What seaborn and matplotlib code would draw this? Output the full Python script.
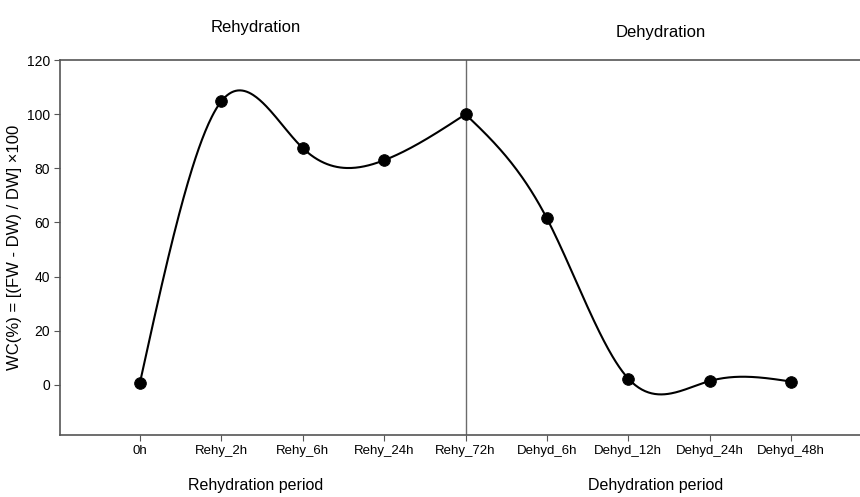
import numpy as np
import pandas as pd
import seaborn as sns
import matplotlib
matplotlib.use("Agg")
import matplotlib.pyplot as plt

# data
stages = ["0h", "Rehy_2h", "Rehy_6h", "Rehy_24h", "Rehy_72h",
          "Dehyd_6h", "Dehyd_12h", "Dehyd_24h", "Dehyd_48h"]
wc = [0.8, 104.8, 87.5, 83.0, 100.0, 61.5, 2.3, 1.4, 1.2]
split_at = 4  # Rehy_72h: end of rehydration, start of dehydration

sns.set_style("white")
plt.rcParams["font.family"] = ["Liberation Sans", "DejaVu Sans"]
plt.rcParams["text.color"] = "black"
plt.rcParams["xtick.color"] = "black"
plt.rcParams["ytick.color"] = "black"
plt.rcParams["axes.labelcolor"] = "black"

df = pd.DataFrame({"stage": stages, "wc": wc})
df["pos"] = np.arange(len(stages))


def natural_spline(x, y, n=300):
    # natural cubic spline through the points (smooth connecting line)
    x = np.asarray(x, float)
    y = np.asarray(y, float)
    k = len(x)
    h = np.diff(x)
    A = np.zeros((k, k))
    b = np.zeros(k)
    A[0, 0] = A[-1, -1] = 1
    for i in range(1, k - 1):
        A[i, i - 1] = h[i - 1]
        A[i, i] = 2 * (h[i - 1] + h[i])
        A[i, i + 1] = h[i]
        b[i] = 6 * ((y[i + 1] - y[i]) / h[i] - (y[i] - y[i - 1]) / h[i - 1])
    M = np.linalg.solve(A, b)
    xs = np.linspace(x[0], x[-1], n)
    idx = np.clip(np.searchsorted(x, xs) - 1, 0, k - 2)
    x0, x1 = x[idx], x[idx + 1]
    hh = x1 - x0
    ys = (M[idx] * (x1 - xs) ** 3 / (6 * hh) + M[idx + 1] * (xs - x0) ** 3 / (6 * hh)
          + (y[idx] / hh - M[idx] * hh / 6) * (x1 - xs)
          + (y[idx + 1] / hh - M[idx + 1] * hh / 6) * (xs - x0))
    return pd.DataFrame({"pos": xs, "wc": ys})


rehy = df[df["pos"] <= split_at]
dehy = df[df["pos"] >= split_at]
curve_r = natural_spline(rehy["pos"], rehy["wc"])
curve_r["phase"] = "Rehydration"
curve_d = natural_spline(dehy["pos"], dehy["wc"])
curve_d["phase"] = "Dehydration"
curve = pd.concat([curve_r, curve_d], ignore_index=True)

fig = plt.figure(figsize=(8.6, 4.97), dpi=100)
ax = fig.add_axes([0.07, 0.125, 0.935, 0.754])

sns.lineplot(data=curve, x="pos", y="wc", units="phase", estimator=None,
             color="black", linewidth=1.5, sort=False, ax=ax)
sns.scatterplot(data=df, x="pos", y="wc", color="black", s=70, edgecolor="black",
                zorder=3, ax=ax)

ax.axvline(split_at, color="#6b6b6b", linewidth=1.0, zorder=1)

ax.set_xlim(-0.98, 8.9)
ax.set_ylim(-18.5, 120)
ax.set_xticks(df["pos"])
ax.set_xticklabels(stages, fontsize=9.5)
ax.set_yticks(range(0, 121, 20))
ax.tick_params(axis="y", labelsize=10)
ax.tick_params(direction="out", length=4, width=0.8, color="#555555", bottom=True, left=True)
ax.set_xlabel("")
ax.set_ylabel("WC(%) = [(FW - DW) / DW] ×100", fontsize=12, labelpad=3)

for side in ["top", "left", "bottom"]:
    ax.spines[side].set_color("#555555")
    ax.spines[side].set_linewidth(1.2)
ax.spines["right"].set_visible(False)

fig.text(0.297, 0.945, "Rehydration", ha="center", va="center", fontsize=12)
fig.text(0.768, 0.935, "Dehydration", ha="center", va="center", fontsize=12)
fig.text(0.297, 0.024, "Rehydration period", ha="center", va="center", fontsize=11.5)
fig.text(0.762, 0.024, "Dehydration period", ha="center", va="center", fontsize=11.5)

fig.savefig("out.png", dpi=100)
